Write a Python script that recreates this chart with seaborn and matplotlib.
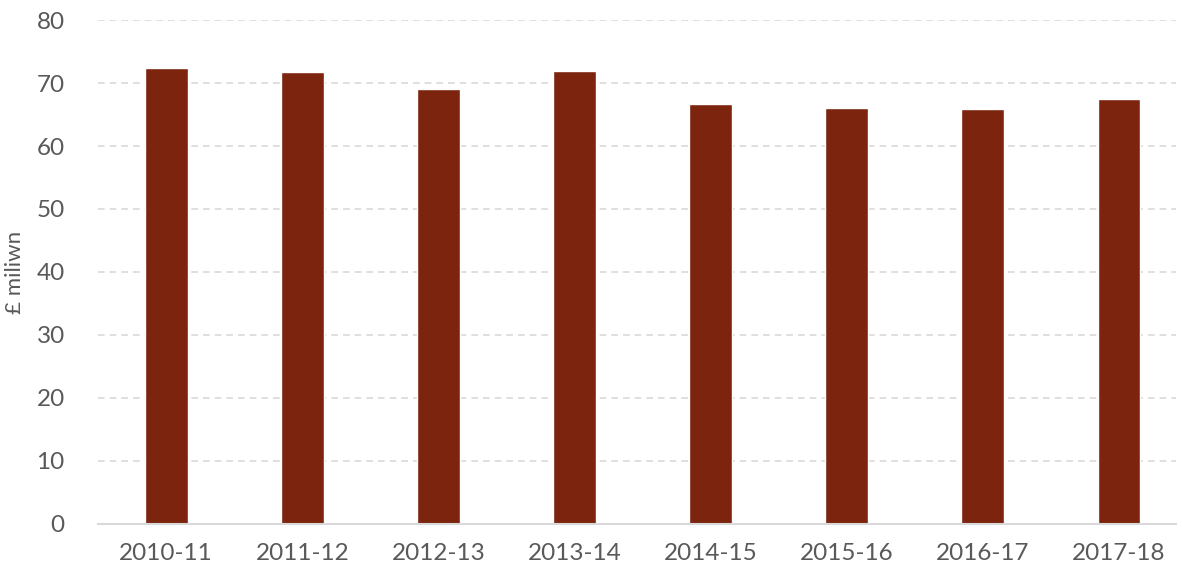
import seaborn as sns
import pandas as pd
import matplotlib.pyplot as plt

years = ["2010-11", "2011-12", "2012-13", "2013-14",
         "2014-15", "2015-16", "2016-17", "2017-18"]
spend = [72.4, 71.7, 69.0, 71.9, 66.6, 66.0, 65.9, 67.5]

df = pd.DataFrame({"year": years, "spend": spend})

sns.set_theme(style="white")
plt.rcParams["font.family"] = ["Lato", "DejaVu Sans"]

fig = plt.figure(figsize=(11.82, 5.72), dpi=100)
ax = fig.add_axes([0.083, 0.084, 0.912, 0.881])

sns.barplot(data=df, x="year", y="spend", color="#7D240E",
            saturation=1, width=0.314, ax=ax)

ax.set_ylim(0, 80)
ax.set_xlim(-0.5, 7.42)
ax.set_yticks(range(0, 81, 10))
ax.yaxis.grid(True, color="#D9D9D9", linestyle=(0, (4, 3)), linewidth=1.2)
ax.set_axisbelow(True)
for s in ["top", "right", "left"]:
    ax.spines[s].set_visible(False)
ax.spines["bottom"].set_color("#D9D9D9")
ax.spines["bottom"].set_linewidth(1.5)

ax.tick_params(axis="both", length=0, labelsize=17.5, labelcolor="#595959")
ax.tick_params(axis="y", pad=24)
ax.tick_params(axis="x", pad=14)
ax.set_xlabel("")
ax.set_ylabel("£ miliwn", fontsize=16, color="#595959", labelpad=8)

fig.savefig("out.png", dpi=100)
